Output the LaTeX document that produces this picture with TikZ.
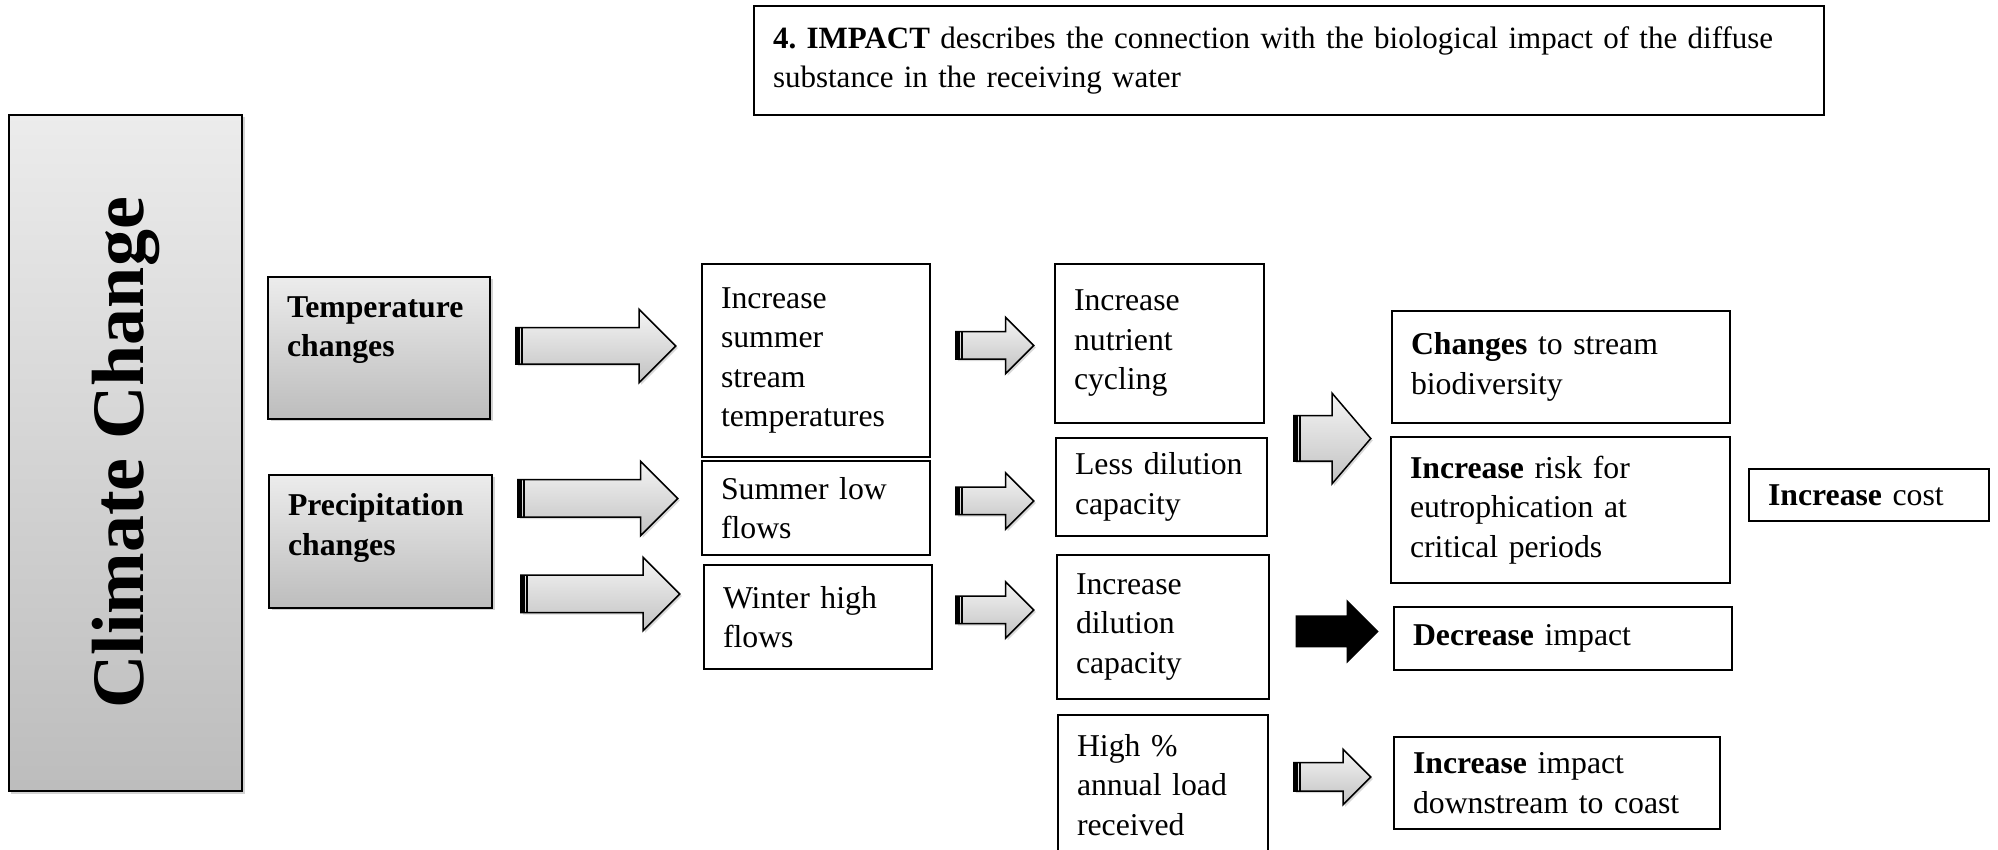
\documentclass[tikz,border=0pt]{standalone}
\usepackage{fontspec}
\setmainfont{Liberation Serif}
\usetikzlibrary{shapes.arrows}
\usetikzlibrary{shadows}
\tikzstyle{gbox} = [rectangle, draw, line width=0.7pt, top color=gray!15,
    bottom color=gray!52, drop shadow={opacity=0.35, shadow xshift=1pt, shadow yshift=-1pt},
    align=left, inner xsep=7.6pt, font=\fontsize{12.7}{15.8}\selectfont\bfseries]
\tikzstyle{box} = [rectangle, draw, line width=0.7pt, fill=white,
    align=left, inner xsep=7.6pt]
\tikzstyle{barrow} = [single arrow, draw, line width=0.6pt, anchor=tail, inner xsep=0pt,
    top color=gray!8, bottom color=gray!48,
    drop shadow={opacity=0.3, shadow xshift=0.8pt, shadow yshift=-0.8pt},
    path picture={
      \fill[black] (path picture bounding box.south west) rectangle ([xshift=1.5pt]path picture bounding box.north west);
      \fill[black] ([xshift=2.1pt]path picture bounding box.south west) rectangle ([xshift=3pt]path picture bounding box.north west);}]
\tikzstyle{karrow} = [single arrow, fill=black, anchor=tail, inner xsep=0pt]

\begin{document}
\frenchspacing
\begin{tikzpicture}[x=0.4pt, y=-0.4pt, font=\fontsize{12.7}{15.8}\selectfont]
    \useasboundingbox (0,0) rectangle (1998,850);
    % Place nodes
    \node[gbox, minimum width=93.2pt, minimum height=270.4pt] (climate) at (125.5,453)
        {\rotatebox{90}{\fontsize{29.6}{34}\selectfont Climate Change}};
    \node[box, minimum width=428pt, minimum height=43.6pt, text width=412.8pt,
        font=\fontsize{12.4}{15.6}\selectfont] (impact) at (1289,60.5)
        {\textbf{4. IMPACT} describes the connection with the biological impact of the diffuse\\substance in the receiving water};
    \node[gbox, minimum width=88.8pt, minimum height=56.8pt, text width=73.6pt, text depth=33pt] (temp) at (379,348) {Temperature\\changes};
    \node[gbox, minimum width=89.2pt, minimum height=53.2pt, text width=74pt, text depth=29.4pt] (precip) at (380.5,541.5) {Precipitation\\changes};
    \node[box, minimum width=91.2pt, minimum height=77.2pt, text width=76pt] (streamtemp) at (816,360.5) {Increase\\summer\\stream\\temperatures};
    \node[box, minimum width=91.2pt, minimum height=37.6pt, text width=76pt] (lowflow) at (816,508) {Summer low\\flows};
    \node[box, minimum width=91.2pt, minimum height=41.6pt, text width=76pt] (highflow) at (818,617) {Winter high\\flows};
    \node[box, minimum width=83.6pt, minimum height=63.6pt, text width=68.4pt] (cycling) at (1159.5,343.5) {Increase\\nutrient\\cycling};
    \node[box, minimum width=84.4pt, minimum height=39.2pt, text width=69.2pt] (lessdil) at (1161.5,487) {Less dilution\\capacity};
    \node[box, minimum width=84.8pt, minimum height=57.6pt, text width=69.6pt] (moredil) at (1163,627) {Increase\\dilution\\capacity};
    \node[box, minimum width=84pt, minimum height=56pt, text width=68.8pt] (annual) at (1163,785) {High \%\\annual load\\received};
    \node[box, minimum width=135.2pt, minimum height=44.8pt, text width=120pt] (biodiv) at (1561,367) {\textbf{Changes} to stream\\biodiversity};
    \node[box, minimum width=135.6pt, minimum height=58.4pt, text width=120.4pt] (eutro) at (1560.5,510) {\textbf{Increase} risk for\\eutrophication at\\critical periods};
    \node[box, minimum width=135.2pt, minimum height=25.2pt, text width=120pt] (decimp) at (1563,638.5) {\textbf{Decrease} impact};
    \node[box, minimum width=130.4pt, minimum height=36.8pt, text width=115.2pt] (coast) at (1557,783) {\textbf{Increase} impact\\downstream to coast};
    \node[box, minimum width=96pt, minimum height=20.8pt, text width=80.8pt] (cost) at (1869,495) {\textbf{Increase} cost};
    % Draw arrows
    \node[barrow, minimum height=64pt, inner ysep=7pt, single arrow head extend=7.4pt] (temparr) at (515,346) {};
    \node[barrow, minimum height=64pt, inner ysep=7.2pt, single arrow head extend=7.4pt] (lowarr) at (517,498.5) {};
    \node[barrow, minimum height=63.6pt, inner ysep=7.2pt, single arrow head extend=7.2pt] (higharr) at (520,594) {};
    \node[barrow, minimum height=31.2pt, inner ysep=5.2pt, single arrow head extend=5.8pt] (cycarr) at (955,345.5) {};
    \node[barrow, minimum height=31.2pt, inner ysep=5.2pt, single arrow head extend=5.8pt] (lessarr) at (955,501) {};
    \node[barrow, minimum height=31.2pt, inner ysep=5.2pt, single arrow head extend=5.8pt] (morearr) at (955,610) {};
    \node[barrow, minimum height=30.8pt, inner ysep=8.8pt, single arrow head extend=9pt,
        single arrow tip angle=99] (riskarr) at (1293,438.5) {};
    \node[karrow, minimum height=33.2pt, inner ysep=6.2pt, single arrow head extend=6.4pt] (decarr) at (1295,631.5) {};
    \node[barrow, minimum height=30.8pt, inner ysep=5.4pt, single arrow head extend=5.4pt] (coastarr) at (1293,777) {};
\end{tikzpicture}
\end{document}
